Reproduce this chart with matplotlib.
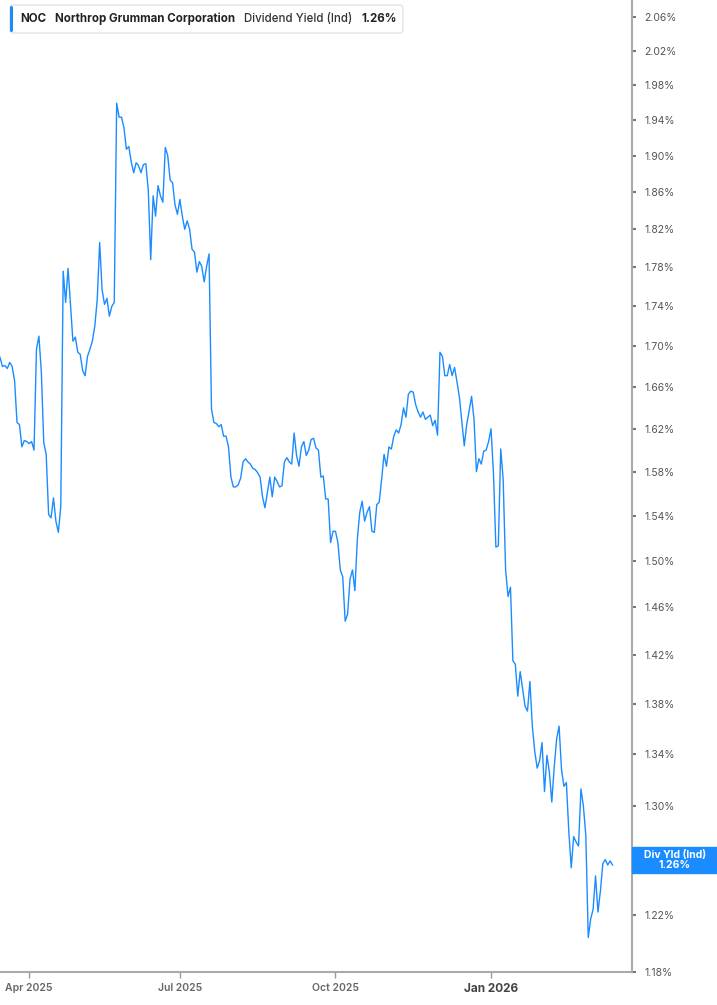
import matplotlib
matplotlib.use("Agg")
import matplotlib.pyplot as plt
import matplotlib.transforms as mtransforms
from matplotlib.ticker import FixedLocator, FuncFormatter, NullLocator, NullFormatter
from matplotlib.patches import FancyBboxPatch, Rectangle
import numpy as np
import pandas as pd

plt.rcParams['font.family'] = ['Inter', 'DejaVu Sans']

# Data: NOC indicated dividend yield (%), one value per trading day
start_date = "2025-03-14"
market_holidays = ["2025-04-18", "2025-05-26", "2025-06-19", "2025-07-04", "2025-09-01",
                   "2025-11-27", "2025-12-25", "2026-01-01", "2026-01-19", "2026-02-16"]
div_yield = [
    1.689, 1.680, 1.681, 1.678, 1.684, 1.680, 1.666, 1.626, 1.624, 1.603,
    1.609, 1.608, 1.606, 1.608, 1.600, 1.697, 1.710, 1.675, 1.607, 1.596,
    1.541, 1.538, 1.556, 1.535, 1.525, 1.548, 1.776, 1.744, 1.779, 1.742,
    1.705, 1.709, 1.694, 1.692, 1.676, 1.671, 1.690, 1.697, 1.705, 1.720,
    1.747, 1.806, 1.757, 1.742, 1.748, 1.730, 1.740, 1.744, 1.959, 1.943,
    1.943, 1.931, 1.907, 1.910, 1.893, 1.881, 1.892, 1.889, 1.881, 1.890,
    1.891, 1.862, 1.788, 1.856, 1.834, 1.867, 1.856, 1.849, 1.909, 1.900,
    1.873, 1.870, 1.846, 1.836, 1.852, 1.834, 1.820, 1.829, 1.820, 1.799,
    1.796, 1.775, 1.786, 1.781, 1.765, 1.781, 1.794, 1.639, 1.626, 1.625,
    1.622, 1.624, 1.613, 1.613, 1.603, 1.575, 1.566, 1.566, 1.568, 1.574,
    1.589, 1.592, 1.589, 1.587, 1.583, 1.582, 1.579, 1.575, 1.557, 1.547,
    1.561, 1.575, 1.557, 1.575, 1.571, 1.566, 1.567, 1.589, 1.593, 1.589,
    1.587, 1.616, 1.595, 1.585, 1.603, 1.608, 1.595, 1.600, 1.610, 1.611,
    1.602, 1.600, 1.575, 1.576, 1.555, 1.555, 1.516, 1.526, 1.526, 1.516,
    1.492, 1.486, 1.448, 1.454, 1.484, 1.492, 1.474, 1.519, 1.543, 1.553,
    1.535, 1.543, 1.548, 1.526, 1.525, 1.550, 1.552, 1.573, 1.596, 1.585,
    1.603, 1.601, 1.613, 1.619, 1.616, 1.624, 1.640, 1.631, 1.653, 1.656,
    1.655, 1.643, 1.636, 1.631, 1.636, 1.629, 1.631, 1.633, 1.623, 1.628,
    1.614, 1.694, 1.690, 1.671, 1.671, 1.682, 1.671, 1.679, 1.665, 1.650,
    1.627, 1.604, 1.624, 1.637, 1.651, 1.629, 1.580, 1.592, 1.587, 1.599,
    1.600, 1.608, 1.620, 1.579, 1.512, 1.513, 1.601, 1.573, 1.492, 1.469,
    1.477, 1.415, 1.412, 1.386, 1.406, 1.392, 1.378, 1.374, 1.398, 1.362,
    1.342, 1.329, 1.335, 1.349, 1.311, 1.339, 1.326, 1.303, 1.330, 1.352,
    1.362, 1.328, 1.315, 1.318, 1.281, 1.254, 1.277, 1.273, 1.270, 1.313,
    1.300, 1.278, 1.204, 1.217, 1.224, 1.248, 1.222, 1.237, 1.257, 1.260,
    1.256, 1.259, 1.256,
]
y_ticks = [1.18, 1.22, 1.26, 1.30, 1.34, 1.38, 1.42, 1.46, 1.50, 1.54, 1.58,
           1.62, 1.66, 1.70, 1.74, 1.78, 1.82, 1.86, 1.90, 1.94, 1.98, 2.02, 2.06]
x_tick_dates = ["2025-04-01", "2025-07-01", "2025-10-01", "2026-01-01"]
x_tick_labels = ["Apr 2025", "Jul 2025", "Oct 2025", "Jan 2026"]
last_yield = 1.26

# trading-day calendar; the chart spaces sessions evenly
dates = pd.bdate_range(start=start_date, periods=len(div_yield), freq="C",
                       holidays=market_holidays)
idx = np.arange(len(div_yield))
tick_pos = np.searchsorted(dates.values, pd.to_datetime(x_tick_dates).values)

W, H = 717, 1005
BLUE = "#1a8cff"
fig = plt.figure(figsize=(W / 100, H / 100), dpi=100)
ax = fig.add_axes([0, 33 / H, 632 / W, 972 / H])
ax.plot(idx, div_yield, color=BLUE, lw=1.0)

ax.set_yscale("log")
ax.set_ylim(1.18, 2.0805)
ax.set_xlim(0, 260)

for s in ["left", "top"]:
    ax.spines[s].set_visible(False)
for s in ["right", "bottom"]:
    ax.spines[s].set_color("#aaaaaa")
    ax.spines[s].set_linewidth(1.5)

# right-hand value axis (1.26% label sits under the value badge)
ax.yaxis.tick_right()
ax.yaxis.set_major_locator(FixedLocator(y_ticks))
ax.yaxis.set_major_formatter(
    FuncFormatter(lambda v, p: "" if abs(v - last_yield) < 1e-9 else f"{v:.2f}%"))
ax.yaxis.set_minor_locator(NullLocator())
ax.yaxis.set_minor_formatter(NullFormatter())
ax.tick_params(axis="y", length=3, width=1.5, color="#777777", pad=6,
               labelsize=7.5, labelcolor="#555555")

# date axis
ax.set_xticks(tick_pos)
ax.set_xticklabels(x_tick_labels)
ax.tick_params(axis="x", length=4, width=1, color="#999999", pad=4,
               labelsize=7.5, labelcolor="#666666")
for lab in ax.get_xticklabels():
    lab.set_fontweight("semibold")
    if lab.get_text().startswith("Jan"):
        lab.set_fontweight("bold")
        lab.set_fontsize(8.5)
        lab.set_color("#444444")

# end-of-series value badge
y_disp = ax.transData.transform((idx[-1], last_yield))[1]
fig.patches.append(Rectangle((632 / W, (y_disp - 13) / H), 85 / W, 26 / H,
                             transform=fig.transFigure, color=BLUE, zorder=10))
fig.text(675 / W, y_disp / H, f"Div Yld (Ind)\n{last_yield:.2f}%", ha="center",
         va="center", color="white", fontsize=7.5, fontweight="bold",
         linespacing=1.0, zorder=11)

# header legend box
ident = mtransforms.IdentityTransform()
renderer = fig.canvas.get_renderer()
pieces = [("NOC", "bold", "#222222"),
          ("Northrop Grumman Corporation", "bold", "#222222"),
          ("Dividend Yield (Ind)", "medium", "#333333"),
          (f"{last_yield:.2f}%", "bold", "#222222")]
x_cur = 20
y_mid = H - 19
for txt, wt, col in pieces:
    t = fig.text(x_cur, y_mid, txt, transform=ident, fontsize=8.3, fontweight=wt,
                 color=col, va="center", ha="left", zorder=12)
    bb = t.get_window_extent(renderer)
    x_cur = bb.x1 + 9
box_right = x_cur - 9 + 6
fig.patches.append(FancyBboxPatch((10, H - 33), box_right - 10, 28,
                                  boxstyle="round,pad=0,rounding_size=3",
                                  transform=ident, facecolor="white",
                                  edgecolor="#e3e3e3", lw=1, zorder=8))
fig.patches.append(FancyBboxPatch((10, H - 32), 3, 26,
                                  boxstyle="round,pad=0,rounding_size=1.5",
                                  transform=ident, facecolor=BLUE,
                                  edgecolor="none", zorder=9))

fig.savefig("out.png", dpi=100)
